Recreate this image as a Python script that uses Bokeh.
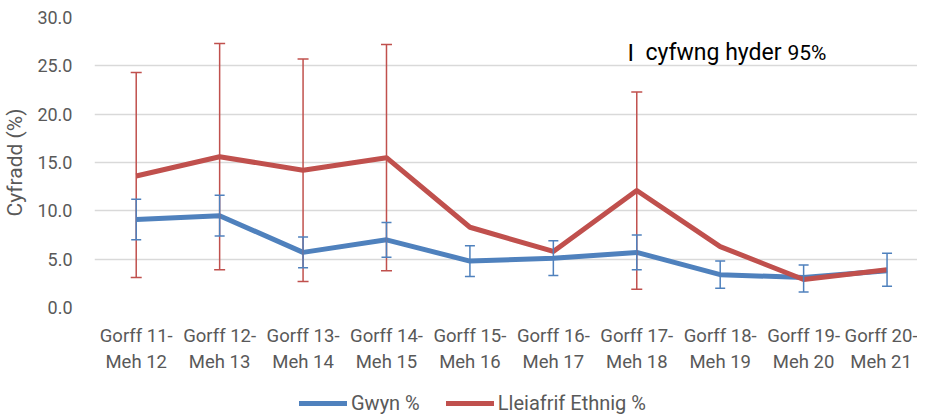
from bokeh.plotting import figure
from bokeh.layouts import column
from bokeh.models import (ColumnDataSource, Range1d, FixedTicker, NumeralTickFormatter,
                          Whisker, TeeHead, Legend, LegendItem, Label)
from bokeh.embed import file_html
from bokeh.resources import INLINE

categories = ["Gorff 11-\nMeh 12", "Gorff 12-\nMeh 13", "Gorff 13-\nMeh 14", "Gorff 14-\nMeh 15",
              "Gorff 15-\nMeh 16", "Gorff 16-\nMeh 17", "Gorff 17-\nMeh 18", "Gorff 18-\nMeh 19",
              "Gorff 19-\nMeh 20", "Gorff 20-\nMeh 21"]
gwyn = [9.1, 9.5, 5.7, 7.0, 4.8, 5.1, 5.7, 3.4, 3.1, 3.8]
gwyn_low = [7.0, 7.4, 4.1, 5.2, 3.2, 3.3, 3.9, 2.0, 1.6, 2.2]
gwyn_high = [11.2, 11.6, 7.3, 8.8, 6.4, 6.9, 7.5, 4.8, 4.4, 5.6]
ethnig = [13.6, 15.6, 14.2, 15.5, 8.3, 5.8, 12.1, 6.3, 2.9, 3.9]
ethnig_low = [3.1, 3.9, 2.7, 3.8, None, None, 1.9, None, None, None]
ethnig_high = [24.3, 27.3, 25.7, 27.2, None, None, 22.3, None, None, None]
y_ticks = [0, 5, 10, 15, 20, 25, 30]
series_names = ["Gwyn %", "Lleiafrif Ethnig %"]

BLUE = "#4f81bd"
RED = "#c0504d"
GREY = "#595959"
FONT = "Roboto"

xs = list(range(len(categories)))

p = figure(width=917, height=381, output_backend="svg", toolbar_location=None,
           x_range=Range1d(-0.5, 9.365), y_range=Range1d(0, 30),
           min_border_left=89, min_border_right=0, min_border_top=17, min_border_bottom=74)
p.outline_line_color = None
p.xgrid.grid_line_color = None
p.ygrid.grid_line_color = "#d9d9d9"
p.ygrid.grid_line_width = 1.5

for ax in (p.xaxis[0], p.yaxis[0]):
    ax.axis_line_color = None
    ax.major_tick_line_color = None
    ax.minor_tick_line_color = None
    ax.major_label_text_font = FONT
    ax.major_label_text_color = GREY

p.yaxis.major_label_text_font_size = "18px"
p.yaxis.ticker = FixedTicker(ticks=y_ticks)
p.yaxis.formatter = NumeralTickFormatter(format="0.0")
p.yaxis.major_label_standoff = 16
p.yaxis.axis_label = "Cyfradd (%)"
p.yaxis.axis_label_text_font = FONT
p.yaxis.axis_label_text_font_size = "21px"
p.yaxis.axis_label_text_font_style = "normal"
p.yaxis.axis_label_text_color = GREY
p.yaxis.axis_label_standoff = 7

p.xaxis.major_label_text_font_size = "18.5px"
p.xaxis.ticker = FixedTicker(ticks=xs)
p.xaxis.major_label_overrides = {i: c for i, c in zip(xs, categories)}
p.xaxis.major_label_standoff = 11
p.xaxis.major_label_text_line_height = 1.19

# error bars
eidx = [i for i in xs if ethnig_low[i] is not None]
esrc = ColumnDataSource(dict(x=eidx, lo=[ethnig_low[i] for i in eidx], hi=[ethnig_high[i] for i in eidx]))
gsrc = ColumnDataSource(dict(x=xs, lo=gwyn_low, hi=gwyn_high))

ew = Whisker(source=esrc, base="x", lower="lo", upper="hi", line_color=RED, line_width=1.5,
             upper_head=TeeHead(size=11, line_color=RED, line_width=1.5),
             lower_head=TeeHead(size=11, line_color=RED, line_width=1.5), level="glyph")
gw = Whisker(source=gsrc, base="x", lower="lo", upper="hi", line_color=BLUE, line_width=1.5,
             upper_head=TeeHead(size=10, line_color=BLUE, line_width=1.5),
             lower_head=TeeHead(size=10, line_color=BLUE, line_width=1.5), level="glyph")
p.add_layout(ew)
p.add_layout(gw)

src = ColumnDataSource(dict(x=xs, gwyn=gwyn, ethnig=ethnig))
p.line("x", "gwyn", source=src, line_color=BLUE, line_width=5, line_join="round")
p.line("x", "ethnig", source=src, line_color=RED, line_width=5, line_join="round")

# annotation
for txt, xpos, size in [("I", 533, "24px"), ("cyfwng hyder", 551, "23px"), ("95%", 693, "21px")]:
    p.add_layout(Label(x=xpos, y=255, x_units="screen", y_units="screen", text=txt,
                       text_font=FONT, text_font_size=size, text_color="#000000",
                       text_baseline="alphabetic"))

# legend strip below the chart (same series, kept outside its visible range)
lg = figure(width=917, height=34, output_backend="svg", toolbar_location=None,
            x_range=Range1d(-0.5, 9.365), y_range=Range1d(100, 101),
            min_border_left=89, min_border_right=0, min_border_top=0, min_border_bottom=0,
            x_axis_location=None, y_axis_location=None)
lg.outline_line_color = None
lg.grid.visible = False
lr_g = lg.line("x", "gwyn", source=src, line_color=BLUE, line_width=5, line_cap="round")
lr_e = lg.line("x", "ethnig", source=src, line_color=RED, line_width=5, line_cap="round")
legend = Legend(items=[LegendItem(label=series_names[0], renderers=[lr_g]),
                       LegendItem(label=series_names[1], renderers=[lr_e])],
                orientation="horizontal", location=(205, 0),
                border_line_color=None, background_fill_alpha=0, padding=0, margin=0,
                glyph_width=48, glyph_height=18, label_height=18, label_standoff=4, spacing=26,
                label_text_font=FONT, label_text_font_size="20px", label_text_color=GREY)
lg.add_layout(legend, "center")

open("out.html", "w").write(file_html(column(p, lg, spacing=0), INLINE))
